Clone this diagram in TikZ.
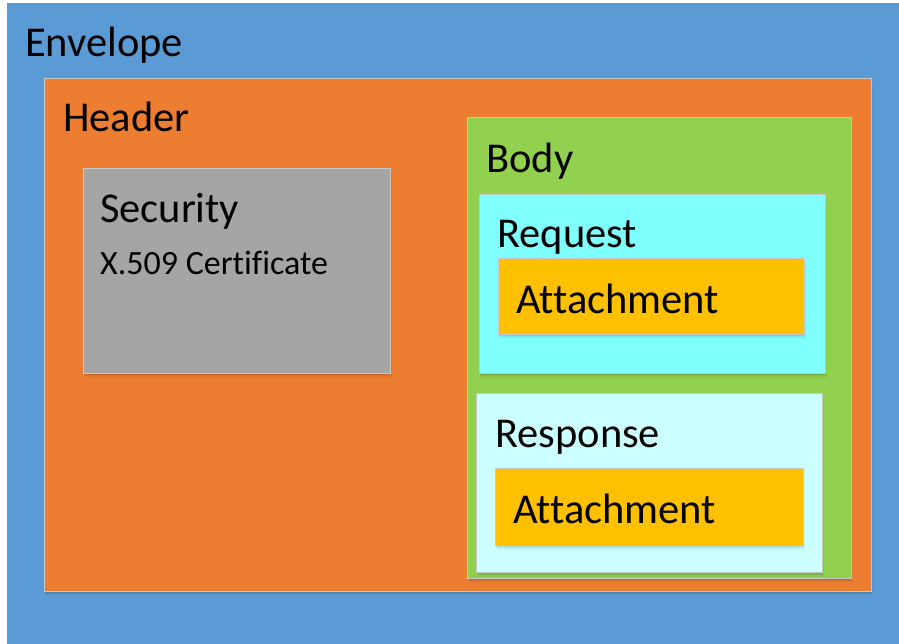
\documentclass[tikz,border=0pt]{standalone}
\usepackage{fontspec}
\setmainfont{Carlito}[Ligatures={NoCommon}]
\usetikzlibrary{shadows}
\definecolor{envblue}{HTML}{5B9BD5}
\definecolor{hdrorange}{HTML}{ED7D31}
\definecolor{bodygreen}{HTML}{92D050}
\definecolor{secgray}{HTML}{A5A5A5}
\definecolor{reqcyan}{HTML}{80FFFF}
\definecolor{respcyan}{HTML}{CCFFFF}
\definecolor{attgold}{HTML}{FFC000}
\definecolor{edgegray}{HTML}{C8C8C8}
\tikzset{
  box/.style={draw=edgegray, line width=0.9pt, inner sep=0pt, outer sep=0pt, anchor=north west},
  shad/.style={
    general shadow={shadow xshift=0.5pt, shadow yshift=-1.5pt, fill=black, opacity=0.07, draw=none},
    general shadow={shadow xshift=1pt, shadow yshift=-3pt, fill=black, opacity=0.06, draw=none},
    general shadow={shadow xshift=1.5pt, shadow yshift=-5pt, fill=black, opacity=0.04, draw=none}},
  lbl/.style={anchor=base west, inner sep=0pt, font=\fontsize{42.5}{46}\selectfont},
  sublbl/.style={anchor=base west, inner sep=0pt, font=\fontsize{34}{38}\selectfont}
}
\begin{document}
\begin{tikzpicture}[x=1pt,y=-1pt]
\useasboundingbox (0,0) rectangle (899,644);
\fill[white] (0,0) rectangle (899,644);
\node[box, draw=none, fill=envblue, minimum width=892pt, minimum height=641pt] (env) at (7,3) {};
\node[box, shad, fill=hdrorange, minimum width=827pt, minimum height=513pt] (hdr) at (44,78) {};
\node[box, shad, fill=secgray, minimum width=307pt, minimum height=205pt] (sec) at (83,168) {};
\node[box, shad, fill=bodygreen, minimum width=384pt, minimum height=461pt] (body) at (467,117) {};
\node[box, shad, fill=reqcyan, minimum width=346pt, minimum height=179pt] (req) at (479,194) {};
\node[box, shad, fill=attgold, minimum width=306pt, minimum height=76pt] (att1) at (498,258) {};
\node[box, shad, fill=respcyan, minimum width=346pt, minimum height=179pt] (resp) at (476,393) {};
\node[box, shad, fill=attgold, minimum width=308pt, minimum height=77pt] (att2) at (495,468) {};

\node[lbl] (tenv) at (25,57) {Envelope};
\node[lbl] (thdr) at (63,132) {Header};
\node[lbl] (tsec) at (100,223) {Security};
\node[sublbl] (tcert) at (100,275) {X.509 Certificate};
\node[lbl] (tbody) at (486,173) {Body};
\node[lbl] (treq) at (497,248) {Request};
\node[lbl] (tatt1) at (516,313) {Attachment};
\node[lbl] (tresp) at (495,447) {Response};
\node[lbl] (tatt2) at (513,523) {Attachment};
\end{tikzpicture}
\end{document}
